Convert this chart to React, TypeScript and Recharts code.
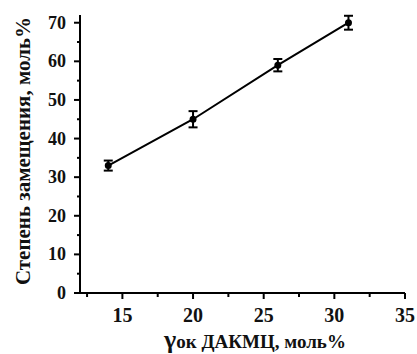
import React from 'react';
import {
  ComposedChart,
  Line,
  XAxis,
  YAxis,
  ErrorBar,
} from 'recharts';

// values
const dakmcContent = [14, 20, 26, 31];
const substitution = [33, 45, 59, 70];
const substitutionErr = [1.3, 2.1, 1.6, 1.8];

const xTicks = [12.5, 15, 17.5, 20, 22.5, 25, 27.5, 30, 32.5, 35];
const yTicks = [0, 5, 10, 15, 20, 25, 30, 35, 40, 45, 50, 55, 60, 65, 70];

const data = dakmcContent.map((x, i) => ({
  x,
  y: substitution[i],
  err: substitutionErr[i],
}));

const FONT = "'Liberation Serif', 'Times New Roman', serif";
const TICK_SIZE = 6;
const TICK_MARGIN = 6;

const XTick = (props: any) => {
  const { x, y, payload } = props;
  const major = payload.value % 5 === 0;
  const axisY = y - TICK_SIZE - TICK_MARGIN;
  return (
    <g>
      <line x1={x} x2={x} y1={axisY} y2={axisY + (major ? 6 : 4)} stroke="#000" strokeWidth={2} />
      {major && (
        <text x={x} y={axisY + 29} textAnchor="middle" style={{ fontFamily: FONT, fontWeight: 'bold', fontSize: 20 }} fill="#111">
          {payload.value}
        </text>
      )}
    </g>
  );
};

const YTick = (props: any) => {
  const { x, y, payload } = props;
  const major = payload.value % 10 === 0;
  const axisX = x + TICK_SIZE + TICK_MARGIN;
  return (
    <g>
      <line x1={axisX} x2={axisX - (major ? 6 : 3)} y1={y} y2={y} stroke="#000" strokeWidth={2} />
      {major && (
        <text x={axisX - 14} y={y + 6} textAnchor="end" style={{ fontFamily: FONT, fontWeight: 'bold', fontSize: 18 }} fill="#111">
          {payload.value}
        </text>
      )}
    </g>
  );
};

export default function App() {
  return (
    <div style={{ position: 'absolute', left: 0, top: 0, background: '#fff' }}>
      <ComposedChart width={417} height={354} data={data} margin={{ top: 15, right: 12, bottom: 31, left: 0 }}>
        <XAxis
          type="number"
          dataKey="x"
          domain={[12, 35]}
          ticks={xTicks}
          interval={0}
          allowDataOverflow
          height={30}
          axisLine={{ stroke: '#000', strokeWidth: 2 }}
          tickLine={false}
          tickSize={TICK_SIZE}
          tickMargin={TICK_MARGIN}
          tick={<XTick />}
        />
        <YAxis
          type="number"
          domain={[0, 72]}
          ticks={yTicks}
          interval={0}
          allowDataOverflow
          width={80}
          axisLine={{ stroke: '#000', strokeWidth: 2 }}
          tickLine={false}
          tickSize={TICK_SIZE}
          tickMargin={TICK_MARGIN}
          tick={<YTick />}
        />
        <Line
          type="linear"
          dataKey="y"
          stroke="#000"
          strokeWidth={2}
          dot={{ r: 2.5, fill: '#000', stroke: '#000' }}
          isAnimationActive={false}
        >
          <ErrorBar dataKey="err" direction="y" width={4.5} stroke="#000" strokeWidth={2} />
        </Line>
        <text
          transform="translate(30,151) rotate(-90)"
          textAnchor="middle"
          style={{ fontFamily: FONT, fontWeight: 'bold', fontSize: 21 }}
          fill="#111"
        >
          Степень замещения, моль%
        </text>
        <text x={255} y={348} textAnchor="middle" style={{ fontFamily: FONT, fontWeight: 'bold', fontSize: 19 }} fill="#111">
          <tspan style={{ fontSize: 26 }}>γ</tspan>
          <tspan>ок ДАКМЦ, моль%</tspan>
        </text>
      </ComposedChart>
    </div>
  );
}
